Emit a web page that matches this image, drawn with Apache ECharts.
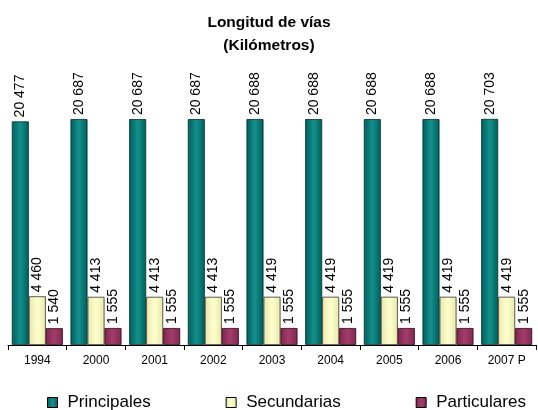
<!DOCTYPE html>
<html lang="es">
<head>
    <meta charset="UTF-8">
    <title>Longitud de vías</title>
    <script src="https://cdn.jsdelivr.net/npm/echarts@6/dist/echarts.min.js"></script>
    <style>
        html, body { margin: 0; padding: 0; background: #fff; }
        #chart { width: 538px; height: 410px; }
    </style>
</head>
<body>
<div id="chart"></div>
<script>
    // datos
    var years = ['1994', '2000', '2001', '2002', '2003', '2004', '2005', '2006', '2007 P'];
    var principales = [20477, 20687, 20687, 20687, 20688, 20688, 20688, 20688, 20703];
    var secundarias = [4460, 4413, 4413, 4413, 4419, 4419, 4419, 4419, 4419];
    var particulares = [1540, 1555, 1555, 1555, 1555, 1555, 1555, 1555, 1555];

    var myChart = echarts.init(document.getElementById('chart'));

    // 20477 -> "20 477"
    function fmt(v) {
        var s = String(v);
        return s.length > 3 ? s.slice(0, s.length - 3) + ' ' + s.slice(-3) : s;
    }

    var labelStyle = {
        show: true,
        position: 'top',
        rotate: 90,
        align: 'left',
        verticalAlign: 'middle',
        distance: 4,
        color: '#000',
        fontFamily: 'Liberation Sans, Arial',
        fontSize: 14,
        formatter: function (p) { return fmt(p.value); }
    };

    function grad(c1, c2) {
        return new echarts.graphic.LinearGradient(0, 0, 1, 0, [
            {offset: 0, color: c1},
            {offset: 0.5, color: c2},
            {offset: 1, color: c1}
        ]);
    }

    var option = {
        backgroundColor: '#fff',
        animation: false,
        title: {
            text: 'Longitud de vías\n(Kilómetros)',
            left: 'center',
            top: 6,
            textStyle: {
                fontFamily: 'Liberation Sans, Arial',
                fontSize: 15.5,
                fontWeight: 'bold',
                color: '#000',
                lineHeight: 23
            }
        },
        legend: {
            data: ['Principales', 'Secundarias', 'Particulares'],
            left: 42,
            top: 389,
            itemWidth: 10,
            itemHeight: 10,
            itemGap: 75,
            icon: 'rect',
            itemStyle: {borderColor: '#000', borderWidth: 1},
            textStyle: {
                fontFamily: 'Liberation Sans, Arial',
                fontSize: 17,
                color: '#000',
                padding: [0, 0, 0, 5]
            }
        },
        grid: {
            left: 8,
            right: 2,
            top: 72,
            bottom: 65
        },
        xAxis: {
            type: 'category',
            data: years,
            axisLine: {lineStyle: {color: '#000', width: 1}},
            axisTick: {show: true, length: 5, lineStyle: {color: '#000'}},
            axisLabel: {
                color: '#000',
                fontFamily: 'Liberation Sans, Arial',
                fontSize: 12,
                margin: 10
            }
        },
        yAxis: {
            type: 'value',
            min: 0,
            max: 25000,
            show: false,
            splitLine: {show: false}
        },
        series: [
            {
                name: 'Principales',
                type: 'bar',
                data: principales,
                barWidth: 17,
                barGap: '0%',
                itemStyle: {color: grad('#005e5c', '#14908c'), borderColor: '#003030', borderWidth: 0.8},
                label: labelStyle
            },
            {
                name: 'Secundarias',
                type: 'bar',
                data: secundarias,
                barWidth: 17,
                barGap: '0%',
                itemStyle: {color: grad('#e8e8a8', '#ffffd0'), borderColor: '#303030', borderWidth: 0.8},
                label: labelStyle
            },
            {
                name: 'Particulares',
                type: 'bar',
                data: particulares,
                barWidth: 17,
                barGap: '0%',
                itemStyle: {color: grad('#7e2650', '#a33c6c'), borderColor: '#300818', borderWidth: 0.8},
                label: labelStyle
            }
        ]
    };

    myChart.setOption(option);
</script>
</body>
</html>
